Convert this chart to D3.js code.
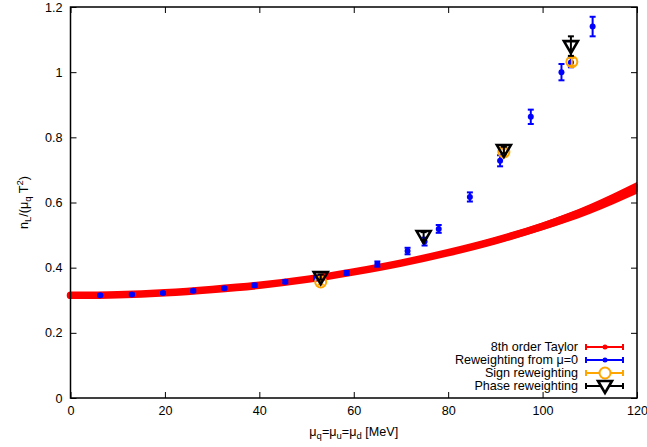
<!DOCTYPE html>
<html>
<head>
  <meta charset="utf-8">
  <title>nL over mu_q T^2</title>
  <script src="https://d3js.org/d3.v7.min.js"></script>
  <style>
    body { margin: 0; background: #fff; }
    text { font-family: "Liberation Sans", Arial, sans-serif; font-size: 12.6px; fill: #000; }
  </style>
</head>
<body>
  <script>
    // 8th order Taylor band (centre and half width)
    var taylorMu  = [0, 10, 20, 30, 40, 50, 60, 70, 80, 90, 100, 110, 120];
    var taylorVal = [0.315, 0.317, 0.323, 0.333, 0.346, 0.364, 0.387, 0.414, 0.446, 0.483, 0.527, 0.58, 0.645];
    var taylorErr = [0, 0.001, 0.002, 0.003, 0.004, 0.005, 0.006, 0.007, 0.008, 0.010, 0.012, 0.015, 0.018];

    // reweighting from mu=0
    var rwMu  = [6.3, 13, 19.6, 26, 32.6, 39, 45.5, 52, 58.5, 65, 71.4, 75, 78, 84.6, 91, 97.5, 104, 106, 110.6];
    var rwVal = [0.315, 0.318, 0.322, 0.329, 0.337, 0.346, 0.357, 0.368, 0.384, 0.411, 0.451, 0.48, 0.519, 0.617, 0.728, 0.863, 1.0, 1.03, 1.14];
    var rwErr = [0.003, 0.003, 0.003, 0.004, 0.004, 0.005, 0.005, 0.006, 0.006, 0.008, 0.01, 0.012, 0.012, 0.014, 0.017, 0.022, 0.025, 0.015, 0.03];

    // sign reweighting
    var signMu  = [53, 91.8, 106.2];
    var signVal = [0.356, 0.755, 1.032];
    var signErr = [0.008, 0.01, 0.012];

    // phase reweighting
    var phaseMu  = [53, 74.8, 91.8, 106];
    var phaseVal = [0.371, 0.497, 0.761, 1.08];
    var phaseErr = [0.008, 0.012, 0.01, 0.03];

    var xTicks = [0, 20, 40, 60, 80, 100, 120];
    var yTicks = [0, 0.2, 0.4, 0.6, 0.8, 1, 1.2];

    var legendNames = ["8th order Taylor", "Reweighting from \u03bc=0", "Sign reweighting", "Phase reweighting"];
    var colors = ["#ff0000", "#0000ff", "#ffa500", "#000000"];

    var W = 647, H = 447;
    var x = d3.scaleLinear().domain([0, 120]).range([70.5, 637]);
    var y = d3.scaleLinear().domain([0, 1.2]).range([398, 7]);

    var svg = d3.select("body").append("svg")
      .attr("width", W)
      .attr("height", H);

    function zip(a, b, c) {
      return a.map(function(d, i) { return { mu: d, v: b[i], e: c[i] }; });
    }

    var taylor = zip(taylorMu, taylorVal, taylorErr);

    // Taylor band
    var band = svg.append("g");
    band.append("path")
      .datum(taylor)
      .attr("fill", colors[0])
      .attr("d", d3.area().curve(d3.curveMonotoneX)
        .x(function(d) { return x(d.mu); })
        .y0(function(d) { return y(d.v - d.e); })
        .y1(function(d) { return y(d.v + d.e); }));
    band.append("path")
      .datum(taylor)
      .attr("fill", "none")
      .attr("stroke", colors[0])
      .attr("stroke-width", 7.5)
      .attr("stroke-linecap", "round")
      .attr("d", d3.line().curve(d3.curveMonotoneX)
        .x(function(d) { return x(d.mu); })
        .y(function(d) { return y(d.v); }));
    // cut the band at the right border
    svg.append("rect")
      .attr("x", x(120) + 0.5).attr("y", 0)
      .attr("width", 20).attr("height", H)
      .attr("fill", "#fff");

    function errBars(g, data, color, cap) {
      var sel = g.selectAll(null).data(data).enter().append("g")
        .attr("stroke", color).attr("stroke-width", 2).attr("fill", "none");
      sel.append("line")
        .attr("x1", function(d) { return x(d.mu); })
        .attr("x2", function(d) { return x(d.mu); })
        .attr("y1", function(d) { return y(d.v - d.e); })
        .attr("y2", function(d) { return y(d.v + d.e); });
      [-1, 1].forEach(function(s) {
        sel.append("line")
          .attr("x1", function(d) { return x(d.mu) - cap; })
          .attr("x2", function(d) { return x(d.mu) + cap; })
          .attr("y1", function(d) { return y(d.v + s * d.e); })
          .attr("y2", function(d) { return y(d.v + s * d.e); });
      });
    }

    var tri = "M-7,-5L7,-5L0,7Z";

    // reweighting from mu=0
    var rw = zip(rwMu, rwVal, rwErr);
    var gRw = svg.append("g");
    errBars(gRw, rw, colors[1], 3);
    gRw.selectAll("circle").data(rw).enter().append("circle")
      .attr("cx", function(d) { return x(d.mu); })
      .attr("cy", function(d) { return y(d.v); })
      .attr("r", 3)
      .attr("fill", colors[1]);

    // sign reweighting
    var sign = zip(signMu, signVal, signErr);
    var gSign = svg.append("g");
    errBars(gSign, sign, colors[2], 3);
    gSign.selectAll("circle").data(sign).enter().append("circle")
      .attr("cx", function(d) { return x(d.mu); })
      .attr("cy", function(d) { return y(d.v); })
      .attr("r", 5.5)
      .attr("fill", "none")
      .attr("stroke", colors[2])
      .attr("stroke-width", 2);

    // phase reweighting
    var phase = zip(phaseMu, phaseVal, phaseErr);
    var gPhase = svg.append("g");
    errBars(gPhase, phase, colors[3], 3);
    gPhase.selectAll("path").data(phase).enter().append("path")
      .attr("transform", function(d) { return "translate(" + x(d.mu) + "," + y(d.v) + ")"; })
      .attr("d", tri)
      .attr("fill", "none")
      .attr("stroke", colors[3])
      .attr("stroke-width", 2.6);

    // axes with inward, mirrored ticks
    var fmt = d3.format("~g");
    var gx = svg.append("g").attr("transform", "translate(0," + y(0) + ")")
      .call(d3.axisBottom(x).tickValues(xTicks).tickFormat(fmt).tickSizeInner(-6).tickSizeOuter(0).tickPadding(8));
    var gy = svg.append("g").attr("transform", "translate(" + x(0) + ",0)")
      .call(d3.axisLeft(y).tickValues(yTicks).tickFormat(fmt).tickSizeInner(-6).tickSizeOuter(0).tickPadding(8));
    var gx2 = svg.append("g").attr("transform", "translate(0," + y(1.2) + ")")
      .call(d3.axisTop(x).tickValues(xTicks).tickFormat("").tickSizeInner(-6).tickSizeOuter(0));
    var gy2 = svg.append("g").attr("transform", "translate(" + x(120) + ",0)")
      .call(d3.axisRight(y).tickValues(yTicks).tickFormat("").tickSizeInner(-6).tickSizeOuter(0));
    [gx, gy, gx2, gy2].forEach(function(g) {
      g.select(".domain").remove();
      g.selectAll("line").attr("stroke", "#000").attr("stroke-width", 1);
      g.selectAll("text").attr("font-family", null).attr("font-size", null).attr("fill", null);
    });

    svg.append("rect")
      .attr("x", x(0)).attr("y", y(1.2))
      .attr("width", x(120) - x(0)).attr("height", y(0) - y(1.2))
      .attr("fill", "none").attr("stroke", "#000").attr("stroke-width", 1.5);

    // axis titles
    var xt = svg.append("text").attr("x", (x(0) + x(120)) / 2).attr("y", 436).attr("text-anchor", "middle");
    xt.append("tspan").text("\u03bc");
    xt.append("tspan").attr("font-size", "9.5px").attr("dy", 3).text("q");
    xt.append("tspan").attr("dy", -3).text("=\u03bc");
    xt.append("tspan").attr("font-size", "9.5px").attr("dy", 3).text("u");
    xt.append("tspan").attr("dy", -3).text("=\u03bc");
    xt.append("tspan").attr("font-size", "9.5px").attr("dy", 3).text("d");
    xt.append("tspan").attr("dy", -3).text(" [MeV]");

    var yt = svg.append("text")
      .attr("transform", "translate(28," + (y(0) + y(1.2)) / 2 + ") rotate(-90)")
      .attr("text-anchor", "middle");
    yt.append("tspan").text("n");
    yt.append("tspan").attr("font-size", "9.5px").attr("dy", 3).text("L");
    yt.append("tspan").attr("dy", -3).text("/(\u03bc");
    yt.append("tspan").attr("font-size", "9.5px").attr("dy", 3).text("q");
    yt.append("tspan").attr("dy", -3).text(" T");
    yt.append("tspan").attr("font-size", "9.5px").attr("dy", -5).text("2");
    yt.append("tspan").attr("dy", 5).text(")");

    // legend
    var leg = svg.append("g");
    legendNames.forEach(function(name, i) {
      var ly = 347 + i * 13;
      leg.append("text").attr("x", 578).attr("y", ly).attr("dy", "0.35em")
        .attr("text-anchor", "end").text(name);
      var g = leg.append("g").attr("stroke", colors[i]).attr("stroke-width", 2).attr("fill", "none");
      g.append("line").attr("x1", 586).attr("x2", 623).attr("y1", ly).attr("y2", ly);
      g.append("line").attr("x1", 586).attr("x2", 586).attr("y1", ly - 3).attr("y2", ly + 3);
      g.append("line").attr("x1", 623).attr("x2", 623).attr("y1", ly - 3).attr("y2", ly + 3);
      if (i < 2) {
        g.append("circle").attr("cx", 605).attr("cy", ly).attr("r", 2.5).attr("fill", colors[i]).attr("stroke", "none");
      } else if (i === 2) {
        g.append("circle").attr("cx", 605).attr("cy", ly).attr("r", 5.5).attr("fill", "#fff");
      } else {
        g.append("path").attr("transform", "translate(605," + ly + ")").attr("d", tri).attr("fill", "#fff").attr("stroke-width", 2.6);
      }
    });
  </script>
</body>
</html>
